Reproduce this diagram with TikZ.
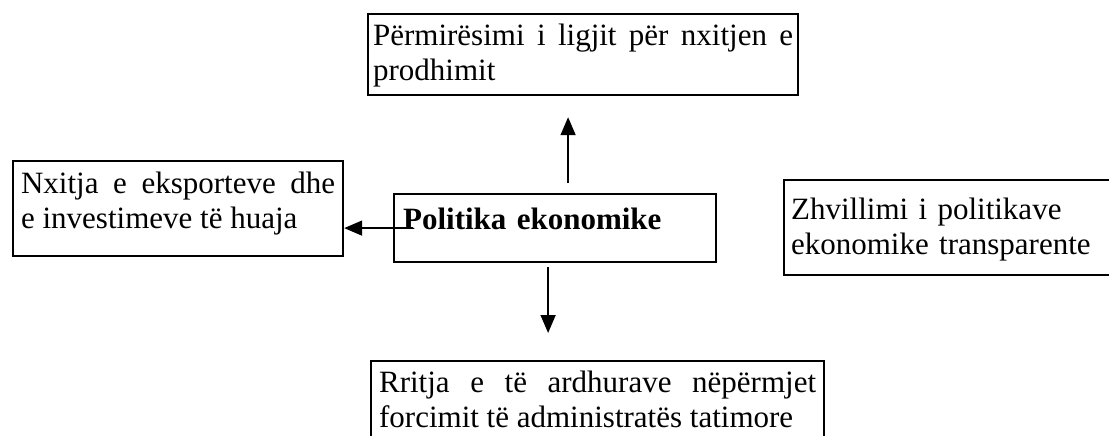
\documentclass[tikz,border=0pt]{standalone}
\usepackage{fontspec}
\setmainfont{Liberation Serif}
\usetikzlibrary{arrows.meta}

\begin{document}
\begin{tikzpicture}[x=1pt,y=-1pt,
  box/.style={draw,line width=2.2pt,anchor=north west,inner ysep=0pt,font=\fontsize{31}{35}\selectfont},
  pointer/.style={line width=1.6pt,-{Triangle[length=18pt,width=15pt]}}]
\useasboundingbox (0,0) rectangle (1109,436);

\node[box,inner xsep=5pt,text width=420pt,align=justify,text height=31pt,text depth=50pt] (prodhim) at (367,13) {Përmirësimi i ligjit për nxitjen e\linebreak prodhimit};
\node[box,inner xsep=8pt,text width=314pt,align=justify,text height=32pt,text depth=63pt] (eksport) at (12,160) {Nxitja e eksporteve dhe\linebreak e investimeve të huaja};
\node[box,inner xsep=9pt,text width=304pt,align=left,text height=35pt,text depth=33pt] (politika) at (393,193) {\textbf{Politika ekonomike}};
\node[box,inner xsep=7pt,text width=330pt,align=left,text height=39pt,text depth=56pt] (transparenc) at (783,179) {Zhvillimi i politikave\\ekonomike transparente};
\node[box,inner xsep=8pt,text width=437pt,align=justify,text height=31pt,text depth=60pt] (ardhura) at (370,360) {\rightskip=22pt Rritja e të ardhurave nëpërmjet\linebreak forcimit të administratës tatimore};

\draw[pointer,shorten <=10pt,shorten >=21pt] ([xshift=13pt]politika.north) -- ([xshift=13pt]politika.north |- prodhim.south);
\draw[pointer] ([xshift=20pt]politika.west) -- (politika.west -| eksport.east);
\draw[pointer,shorten <=4pt,shorten >=27pt] ([xshift=-7pt]politika.south) -- ([xshift=-7pt]politika.south |- ardhura.north);

\end{tikzpicture}
\end{document}
